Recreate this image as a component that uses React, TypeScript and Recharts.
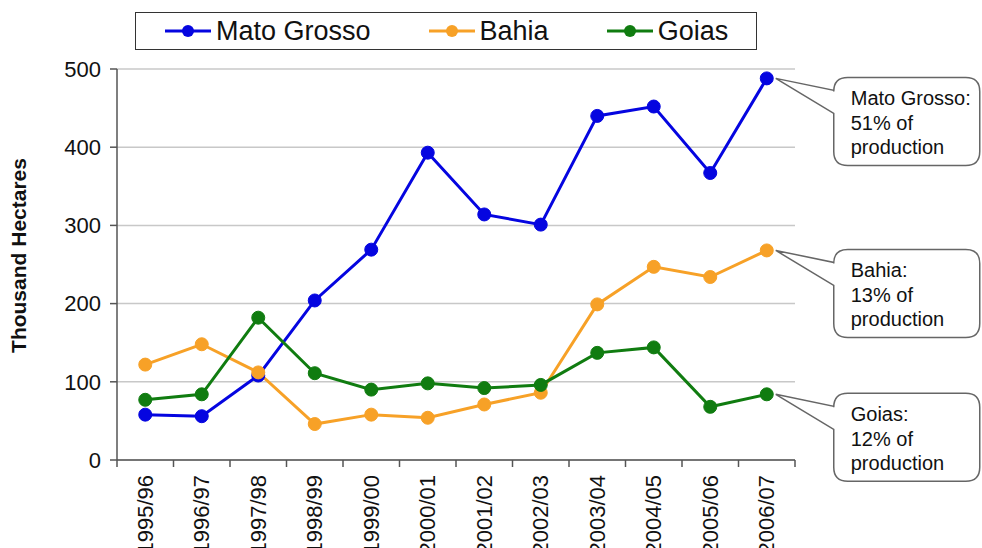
import React from "react";
import {
  LineChart,
  Line,
  XAxis,
  YAxis,
  CartesianGrid,
  Legend,
  LabelList,
  Label,
} from "recharts";

const FONT = '"Liberation Sans", Arial, sans-serif';

const seasons = [
  "1995/96",
  "1996/97",
  "1997/98",
  "1998/99",
  "1999/00",
  "2000/01",
  "2001/02",
  "2002/03",
  "2003/04",
  "2004/05",
  "2005/06",
  "2006/07",
];

const matoGrosso = [58, 56, 108, 204, 269, 393, 314, 301, 440, 452, 367, 488];
const bahia = [122, 148, 112, 46, 58, 54, 71, 86, 199, 247, 234, 268];
const goias = [77, 84, 182, 111, 90, 98, 92, 96, 137, 144, 68, 84];

const yTicks = [0, 100, 200, 300, 400, 500];

const series = [
  { key: "mato", name: "Mato Grosso", color: "#0505e0", share: "51%" },
  { key: "bahia", name: "Bahia", color: "#f7a127", share: "13%" },
  { key: "goias", name: "Goias", color: "#107c10", share: "12%" },
];

const data = seasons.map((season, i) => ({
  season,
  mato: matoGrosso[i],
  bahia: bahia[i],
  goias: goias[i],
}));

// label plus Excel-style tick marks on the category boundaries
const SeasonTick = (props: any) => {
  const { x, y, payload, index } = props;
  const half = payload && payload.offset ? payload.offset : 28.25;
  const ty = y + 15;
  return (
    <g>
      <line x1={x - half} y1={y} x2={x - half} y2={y + 7} stroke="#555" strokeWidth={1.5} />
      {index === seasons.length - 1 && (
        <line x1={x + half} y1={y} x2={x + half} y2={y + 7} stroke="#555" strokeWidth={1.5} />
      )}
      <text
        x={x}
        y={ty}
        dy="0.35em"
        transform={`rotate(-90, ${x}, ${ty})`}
        textAnchor="end"
        fontSize={22}
        fontFamily={FONT}
        fill="#111"
      >
        {payload.value}
      </text>
    </g>
  );
};

const makeCallout = (name: string, share: string) => (props: any) => {
  const { x, y, index } = props;
  if (index !== seasons.length - 1) return null;
  const tipX = x + 9;
  const L = x + 67;
  const T = y - 1;
  const R = L + 146;
  const B = T + 88;
  const r = 14;
  const d = `M ${L + r} ${T} H ${R - r} Q ${R} ${T} ${R} ${T + r} V ${B - r} Q ${R} ${B} ${R - r} ${B} H ${L + r} Q ${L} ${B} ${L} ${B - r} V ${T + 36} L ${tipX} ${y} L ${L} ${T + 13} V ${T + r} Q ${L} ${T} ${L + r} ${T} Z`;
  const lines = [`${name}:`, `${share} of`, "production"];
  return (
    <g>
      <path d={d} fill="#fff" stroke="#666" strokeWidth={1.5} />
      {lines.map((t, i) => (
        <text
          key={i}
          x={L + 17}
          y={T + 28 + i * 24.5}
          fontSize={20}
          fontFamily={FONT}
          fill="#111"
        >
          {t}
        </text>
      ))}
    </g>
  );
};

const renderLegend = () => (
  <div
    style={{
      boxSizing: "border-box",
      width: 622,
      height: 38,
      border: "1.5px solid #333",
      background: "#fff",
      display: "flex",
      alignItems: "center",
      paddingLeft: 29,
      fontFamily: FONT,
      fontSize: 27,
      color: "#111",
      whiteSpace: "nowrap",
    }}
  >
    {series.map((s, i) => (
      <div
        key={s.key}
        style={{
          display: "flex",
          alignItems: "center",
          flexShrink: 0,
          marginRight: i < series.length - 1 ? 58 : 0,
        }}
      >
        <svg width={46} height={20}>
          <line x1={0} y1={10} x2={46} y2={10} stroke={s.color} strokeWidth={3} />
          <circle cx={23} cy={10} r={6} fill={s.color} />
        </svg>
        <span style={{ marginLeft: 5, lineHeight: "30px" }}>{s.name}</span>
      </div>
    ))}
  </div>
);

export default function App() {
  return (
    <div style={{ position: "absolute", left: 0, top: 0, background: "#fff" }}>
      <LineChart
        width={982}
        height={548}
        data={data}
        margin={{ top: 69, right: 187, bottom: 0, left: 0 }}
      >
        <CartesianGrid vertical={false} stroke="#c8c8c8" strokeWidth={1.5} yAxisId="left" />
        <XAxis
          dataKey="season"
          scale="band"
          height={88}
          interval={0}
          tickSize={0}
          tickMargin={0}
          tickLine={false}
          axisLine={{ stroke: "#555", strokeWidth: 1.5 }}
          tick={<SeasonTick />}
        />
        <YAxis
          yAxisId="left"
          domain={[0, 500]}
          ticks={yTicks}
          width={117}
          tickSize={7}
          tickMargin={9}
          axisLine={{ stroke: "#555", strokeWidth: 1.5 }}
          tickLine={{ stroke: "#555", strokeWidth: 1.5 }}
          tick={{ fontSize: 22, fontFamily: FONT, fill: "#111" }}
        >
          <Label
            content={(p: any) => {
              const vb = p.viewBox;
              const cx = 19;
              const cy = vb.y + vb.height / 2 - 9;
              return (
                <text
                  x={cx}
                  y={cy}
                  dy="0.35em"
                  transform={`rotate(-90, ${cx}, ${cy})`}
                  textAnchor="middle"
                  fontSize={21}
                  fontWeight="bold"
                  fontFamily={FONT}
                  fill="#111"
                >
                  Thousand Hectares
                </text>
              );
            }}
          />
        </YAxis>
        <YAxis
          yAxisId="right"
          orientation="right"
          domain={[0, 500]}
          ticks={yTicks}
          width={0}
          tick={false}
          tickLine={false}
          axisLine={{ stroke: "#999", strokeWidth: 1.5 }}
        />
        <Legend
          verticalAlign="middle"
          align="center"
          content={renderLegend}
          wrapperStyle={{ top: 12, left: 135, width: 622, height: 38 }}
        />
        {series.map((s) => (
          <Line
            key={s.key}
            yAxisId={s.key === "goias" ? "right" : "left"}
            dataKey={s.key}
            name={s.name}
            stroke={s.color}
            strokeWidth={3}
            dot={{ r: 6.5, fill: s.color, stroke: s.color, strokeWidth: 1 }}
            isAnimationActive={false}
          >
            <LabelList dataKey={s.key} content={makeCallout(s.name, s.share)} />
          </Line>
        ))}
      </LineChart>
    </div>
  );
}
